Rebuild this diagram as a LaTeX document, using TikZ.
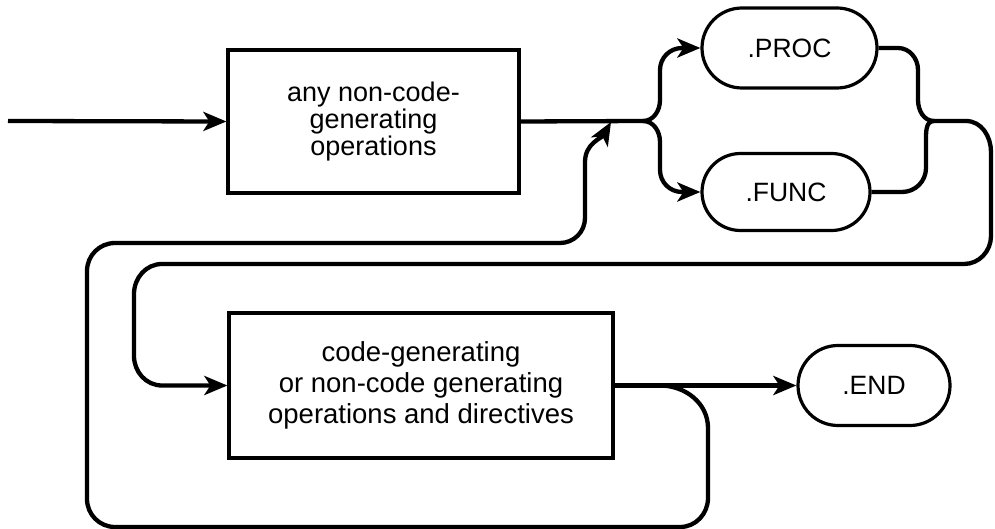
\documentclass[tikz,border=0pt]{standalone}
\usepackage{fontspec}
\setmainfont{Liberation Sans}
\usetikzlibrary{arrows.meta,shapes.misc}
\tikzset{
  conn/.style={line width=4.3pt, line join=round},
  arr/.style={conn, -{Stealth[length=23pt,width=19pt,inset=6pt]}},
  opbox/.style={draw, line width=3.2pt, align=center, inner sep=0pt, font=\fontsize{27}{27}\selectfont},
  term/.style={draw, line width=3.2pt, shape=rounded rectangle, inner sep=0pt, font=\fontsize{26.5}{27}\selectfont}
}
\begin{document}
\begin{tikzpicture}[x=1pt,y=1pt]
\useasboundingbox (0,-529) rectangle (995,0);
\node[opbox, minimum width=291pt, minimum height=143pt] (ops) at (373.5,-121.5) {any non-code-\\generating\\operations};
\node[term, minimum width=175pt, minimum height=80pt] (proc) at (789.5,-48) {.PROC};
\node[term, minimum width=168pt, minimum height=77pt] (func) at (786,-192) {.FUNC};
\node[opbox, minimum width=384pt, minimum height=145pt, font=\fontsize{27.5}{31}\selectfont] (body) at (421,-385.5) {code-generating\\or non-code generating\\operations and directives};
\node[term, minimum width=152pt, minimum height=80pt] (end) at (874,-385.5) {.END};
\coordinate (start) at (8,-121);
\coordinate (br) at (643,-121);
\coordinate (mg) at (934,-121);
\coordinate (back) at (611,-122);
\draw[arr] (start) -- (ops.west);
\draw[conn] (ops.east) -- (br);
\draw[arr] (br) to[out=0,in=-90] (660,-100) -- (660,-70) to[out=90,in=180] (682,-48) -- (proc.west);
\draw[arr] (br) to[out=0,in=90] (660,-142) -- (660,-170) to[out=-90,in=180] (682,-192) -- (func.west);
\draw[conn] (proc.east) -- (898,-48) to[out=0,in=90] (918,-70) -- (918,-100) to[out=-90,in=180] (mg);
\draw[conn] (func.east) -- (902,-192) to[out=0,in=-90] (926,-168) -- (926,-142) to[out=90,in=180] (mg);
\draw[arr] (mg) -- (966,-121) to[out=0,in=90] (991,-152) -- (991,-236) to[out=-90,in=0] (964,-264) -- (162,-264) to[out=180,in=90] (134,-294) -- (134,-356) to[out=-90,in=180] (162,-385.5) -- (body.west);
\draw[arr] (body.east) -- (end.west);
\draw[arr] (body.east) -- (660,-385.5) to[out=0,in=90] (708,-428) -- (708,-498) to[out=-90,in=0] (680,-527) -- (115,-527) to[out=180,in=-90] (87,-499) -- (87,-271) to[out=90,in=180] (115,-243) -- (560,-243) to[out=0,in=-90] (585,-218) -- (585,-162) to[out=90,in=-120] (back);
\end{tikzpicture}
\end{document}
